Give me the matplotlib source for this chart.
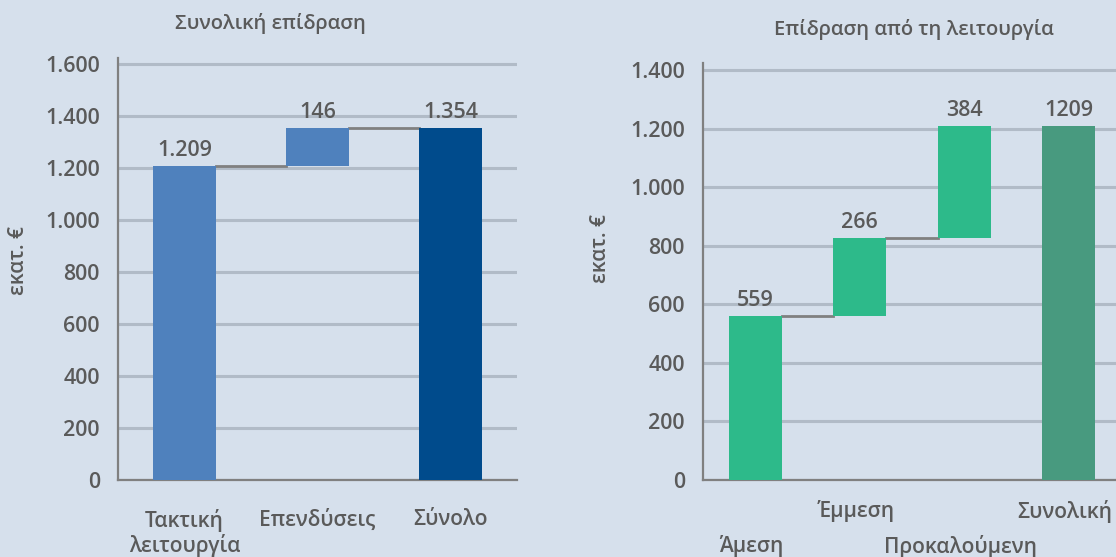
import matplotlib
matplotlib.use("Agg")
import matplotlib.pyplot as plt
from matplotlib.ticker import FuncFormatter

plt.rcParams['font.family'] = ['Open Sans', 'Noto Sans', 'DejaVu Sans']
plt.rcParams['font.weight'] = 'semibold'

# ---- data ----
left_categories = ["Τακτική\nλειτουργία", "Επενδύσεις", "Σύνολο"]
left_values = [1209, 146, 1354]          # step, step, total
left_labels = ["1.209", "146", "1.354"]
left_title = "Συνολική επίδραση"
left_yticks = [0, 200, 400, 600, 800, 1000, 1200, 1400, 1600]

right_categories = ["Άμεση", "Έμμεση", "Προκαλούμενη", "Συνολική"]
right_values = [559, 266, 384, 1209]     # steps + total
right_labels = ["559", "266", "384", "1209"]
right_title = "Επίδραση από τη λειτουργία"
right_yticks = [0, 200, 400, 600, 800, 1000, 1200, 1400]
ylabel = "εκατ. €"

BG = "#d6e0ec"
GRID = "#b1bbc7"
AXC = "#808080"
TXT = "#5a5a5a"

fig = plt.figure(figsize=(11.16, 5.57), dpi=100, facecolor=BG)
W, H = 1116, 557

def fmt(v, pos):
    return f"{int(v):,}".replace(",", ".")

def setup(ax, ylim, yticks):
    ax.set_facecolor(BG)
    ax.set_ylim(*ylim)
    ax.set_yticks(yticks)
    ax.yaxis.set_major_formatter(FuncFormatter(fmt))
    ax.grid(axis="y", color=GRID, lw=2.2, zorder=0)
    ax.set_axisbelow(True)
    for s in ["top", "right"]:
        ax.spines[s].set_visible(False)
    for s in ["left", "bottom"]:
        ax.spines[s].set_color(AXC)
        ax.spines[s].set_linewidth(1.6)
        ax.spines[s].set_zorder(1)
    ax.tick_params(axis="y", length=0, pad=13, labelsize=15.5, labelcolor=TXT)
    ax.tick_params(axis="x", length=0, labelbottom=False)

# ---- left panel ----
axL = fig.add_axes([118 / W, 1 - 480 / H, (517 - 118) / W, (480 - 58) / H])
setup(axL, (0, 1623), left_yticks)
axL.set_xlim(-0.5, len(left_categories) - 0.5)
wL = 0.48
bottomsL = [0, left_values[0], 0]
colorsL = ["#4f81bd", "#4f81bd", "#004b8c"]
for i, (v, b, c) in enumerate(zip(left_values, bottomsL, colorsL)):
    axL.bar(i, v, bottom=b, width=wL, color=c, zorder=2)
    axL.annotate(left_labels[i], xy=(i, b + v), xytext=(0, 5), textcoords="offset pixels",
                 ha="center", va="bottom", fontsize=15.5, color=TXT, zorder=3)
# connectors
tops = [left_values[0], left_values[0] + left_values[1]]
for i, t in enumerate(tops):
    axL.plot([i + wL / 2, i + 1 - wL / 2], [t, t], color=AXC, lw=2, zorder=1.5)
for i, lab in enumerate(left_categories):
    axL.annotate(lab, xy=(i, 0), xytext=(0, -29), textcoords="offset pixels",
                 ha="center", va="top", fontsize=15, color=TXT, linespacing=1.1,
                 annotation_clip=False)
fig.text(270 / W, 1 - 24 / H, left_title, ha="center", va="center", fontsize=14.5, color=TXT)
fig.text(18 / W, 1 - 260 / H, ylabel, rotation=90, ha="center", va="center", fontsize=15, color=TXT)

# ---- right panel ----
axR = fig.add_axes([703 / W, 1 - 480 / H, (1121 - 703) / W, (480 - 63) / H])
setup(axR, (0, 1424), right_yticks)
axR.set_xlim(-0.5, len(right_categories) - 0.5)
wR = 0.51
bottomsR = [0, right_values[0], right_values[0] + right_values[1], 0]
colorsR = ["#2dba8a", "#2dba8a", "#2dba8a", "#489a7f"]
for i, (v, b, c) in enumerate(zip(right_values, bottomsR, colorsR)):
    axR.bar(i, v, bottom=b, width=wR, color=c, zorder=2)
    axR.annotate(right_labels[i], xy=(i, b + v), xytext=(0, 5), textcoords="offset pixels",
                 ha="center", va="bottom", fontsize=15.5, color=TXT, zorder=3)
topsR = [right_values[0], right_values[0] + right_values[1]]
for i, t in enumerate(topsR):
    axR.plot([i + wR / 2, i + 1 - wR / 2], [t, t], color=AXC, lw=2, zorder=1.5)
for i, lab in enumerate(right_categories):
    off = -20 if i % 2 == 1 else -55
    axR.annotate(lab, xy=(i, 0), xytext=(-4, off), textcoords="offset pixels",
                 ha="center", va="top", fontsize=15, color=TXT, annotation_clip=False)
fig.text(914 / W, 1 - 30 / H, right_title, ha="center", va="center", fontsize=14.5, color=TXT)
fig.text(600 / W, 1 - 248 / H, ylabel, rotation=90, ha="center", va="center", fontsize=15, color=TXT)

fig.savefig("out.png", dpi=100, facecolor=BG)
